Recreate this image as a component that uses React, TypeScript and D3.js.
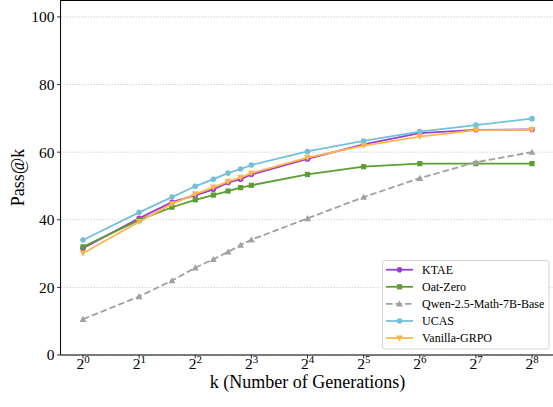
import React from 'react';
import * as d3 from 'd3';

// generations (k) and pass@k per model
const kValues = [1, 2, 3, 4, 5, 6, 7, 8, 16, 32, 64, 128, 256];
const ktae = [31.6, 40.4, 45.2, 47.2, 49.0, 51.0, 52.0, 53.4, 58.0, 62.3, 65.6, 66.6, 66.7];
const oatZero = [32.0, 39.9, 43.7, 45.9, 47.3, 48.5, 49.5, 50.2, 53.4, 55.7, 56.6, 56.6, 56.6];
const qwenBase = [10.6, 17.3, 22.0, 25.8, 28.3, 30.5, 32.5, 34.1, 40.4, 46.7, 52.3, 57.0, 60.0];
const ucas = [34.0, 42.2, 46.7, 49.9, 52.0, 53.8, 55.0, 56.2, 60.2, 63.3, 66.1, 68.0, 69.9];
const vanilla = [30.1, 39.4, 44.7, 47.6, 49.6, 51.3, 52.5, 53.8, 58.4, 61.9, 64.6, 66.5, 66.6];

const seriesNames = ['KTAE', 'Oat-Zero', 'Qwen-2.5-Math-7B-Base', 'UCAS', 'Vanilla-GRPO'];
const seriesColors = ['#9b3fc8', '#5c9e32', '#a0a0a0', '#74bfdc', '#ffb54f'];
const seriesMarkers = ['circle', 'square', 'triUp', 'circle', 'triDown'];
const yTicks = [0, 20, 40, 60, 80, 100];
const xTickExps = [0, 1, 2, 3, 4, 5, 6, 7, 8];

const W = 553;
const H = 407;
const FONT = "'Liberation Serif', 'Times New Roman', 'DejaVu Serif', serif";

const Marker = ({ type, x, y, color }) => {
  if (type === 'circle') return <circle cx={x} cy={y} r={2.8} fill={color} />;
  if (type === 'square') return <rect x={x - 2.6} y={y - 2.6} width={5.2} height={5.2} fill={color} />;
  const s = 3.4;
  const pts = type === 'triUp'
    ? [[x, y - s], [x - s, y + s * 0.8], [x + s, y + s * 0.8]]
    : [[x, y + s], [x - s, y - s * 0.8], [x + s, y - s * 0.8]];
  return <polygon points={pts.map(p => p.join(',')).join(' ')} fill={color} />;
};

export default function App() {
  const allSeries = [ktae, oatZero, qwenBase, ucas, vanilla];
  const x = d3.scaleLog().base(2).domain([1, 256]).range([83, 532]);
  const y = d3.scaleLinear().domain([0, 105]).range([355, 0]);
  const left = x(Math.pow(2, -0.4));
  const right = x(Math.pow(2, 8.4));
  const top = y(105);
  const bottom = y(0);

  const line = d3.line<number>()
    .x((_, i) => x(kValues[i]))
    .y(d => y(d));

  const txt = { fontFamily: FONT };

  return (
    <svg width={W} height={H} style={{ position: 'absolute', left: 0, top: 0, background: '#fff', fontFamily: FONT }}>
      {/* grid */}
      {yTicks.map(t => (
        <line key={t} x1={left} x2={right} y1={y(t)} y2={y(t)}
          stroke="#c8c8c8" strokeWidth={0.8} strokeDasharray="1.5,1.5" />
      ))}

      {/* series */}
      {allSeries.map((vals, si) => (
        <g key={si}>
          <path d={line(vals) || ''} fill="none" stroke={seriesColors[si]} strokeWidth={1.8}
            strokeDasharray={si === 2 ? '6.5,3' : undefined} />
          {vals.map((v, i) => (
            <Marker key={i} type={seriesMarkers[si]} x={x(kValues[i])} y={y(v)} color={seriesColors[si]} />
          ))}
        </g>
      ))}

      {/* spines */}
      <line x1={left} x2={left} y1={top} y2={bottom} stroke="#000" strokeWidth={1} />
      <line x1={left} x2={right} y1={bottom} y2={bottom} stroke="#000" strokeWidth={1} />
      <line x1={left} x2={right} y1={top + 0.5} y2={top + 0.5} stroke="#000" strokeWidth={1} />

      {/* y axis */}
      {yTicks.map(t => (
        <g key={t}>
          <line x1={left - 3.5} x2={left} y1={y(t)} y2={y(t)} stroke="#000" strokeWidth={0.8} />
          <text x={left - 6} y={y(t)} dy="0.35em" textAnchor="end" fontSize={15.5} fill="#000" style={txt}>{t}</text>
        </g>
      ))}

      {/* x axis */}
      {xTickExps.map(e => {
        const px = x(Math.pow(2, e));
        return (
          <g key={e}>
            <line x1={px} x2={px} y1={bottom} y2={bottom + 3.5} stroke="#000" strokeWidth={0.8} />
            <text x={px - 6.5} y={369} fontSize={15.5} fill="#000" style={txt}>2</text>
            <text x={px + 1.3} y={362.5} fontSize={11} fill="#000" style={txt}>{e}</text>
          </g>
        );
      })}

      <text x={(left + right) / 2} y={388} textAnchor="middle" fontSize={18} fill="#000" style={txt}>
        k (Number of Generations)
      </text>
      <text transform={`translate(24, ${(top + bottom) / 2}) rotate(-90)`} textAnchor="middle"
        fontSize={18} fill="#000" style={txt}>Pass@k</text>

      {/* legend */}
      <rect x={382.5} y={260.5} width={166.5} height={88.5} rx={2.5} fill="#fff" fillOpacity={0.85}
        stroke="#d4d4d4" strokeWidth={1} />
      {seriesNames.map((name, i) => {
        const ly = 269.7 + i * 17.1;
        return (
          <g key={name}>
            <line x1={386} x2={413} y1={ly} y2={ly} stroke={seriesColors[i]} strokeWidth={1.8}
              strokeDasharray={i === 2 ? '6.5,3' : undefined} />
            <Marker type={seriesMarkers[i]} x={399.5} y={ly} color={seriesColors[i]} />
            <text x={422} y={ly} dy="0.35em" fontSize={12} fill="#000" style={txt}>{name}</text>
          </g>
        );
      })}
    </svg>
  );
}
